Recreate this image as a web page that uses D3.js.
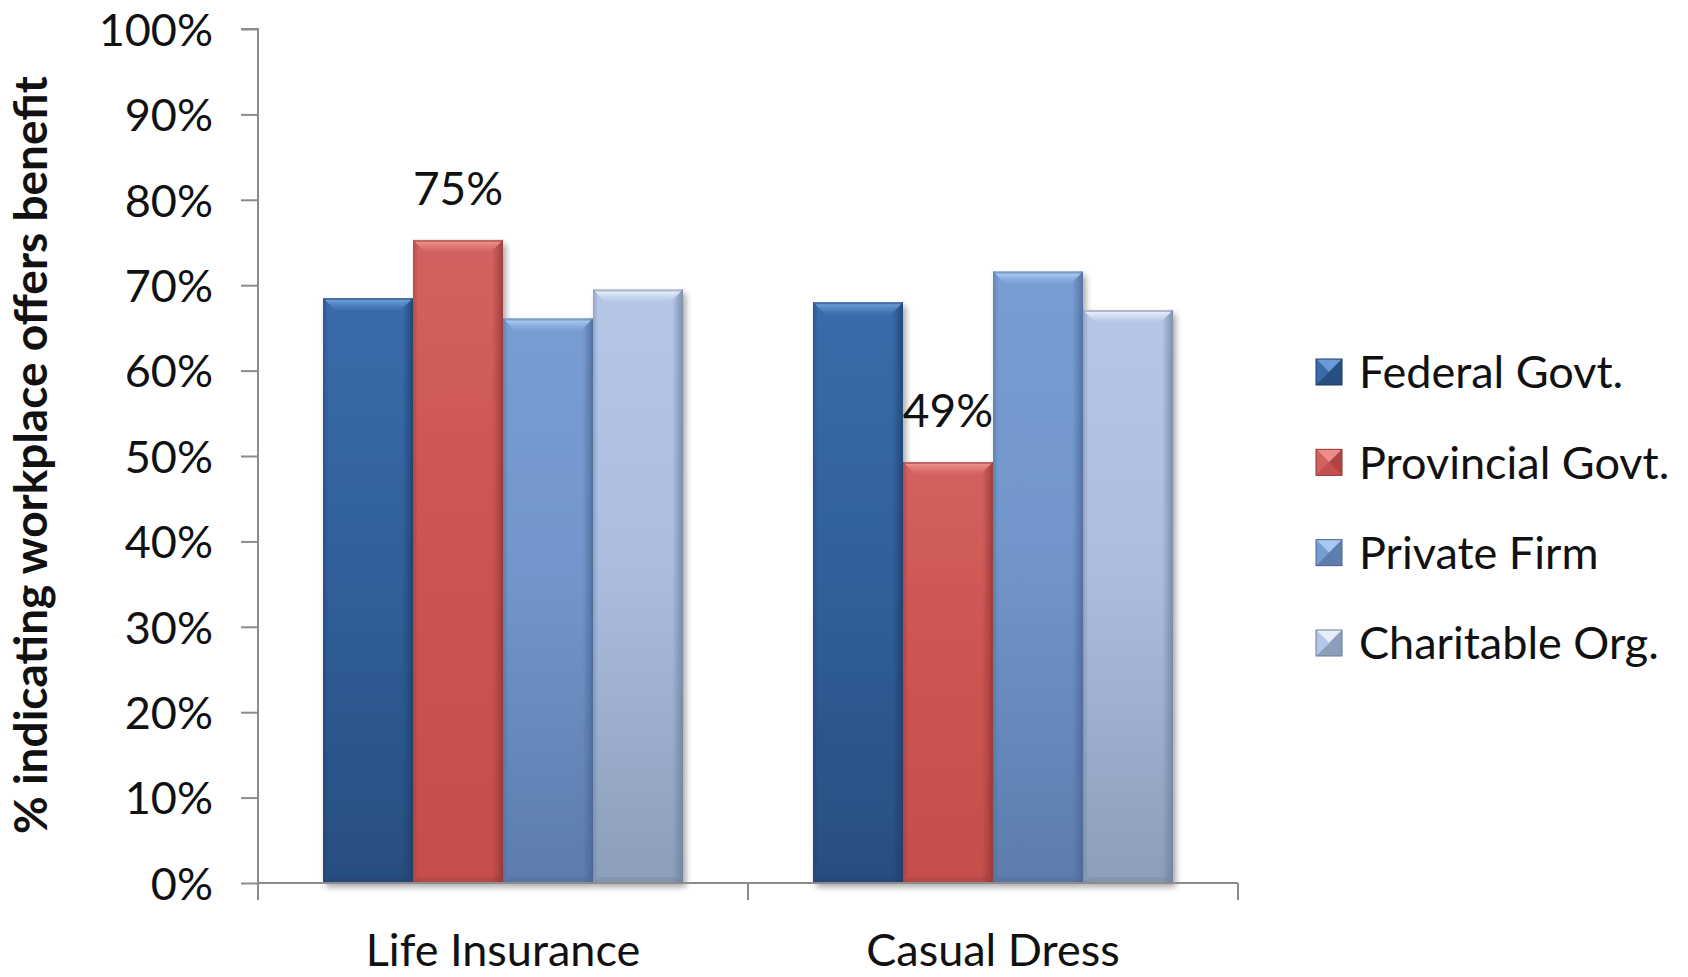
<!DOCTYPE html>
<html>
<head>
<meta charset="utf-8">
<script src="https://cdn.jsdelivr.net/npm/d3@7/dist/d3.min.js"></script>
<style>
  html, body { margin: 0; padding: 0; background: #ffffff; }
  svg { display: block; }
  text { font-family: Lato, "Open Sans", "Liberation Sans", sans-serif; fill: #111; }
</style>
</head>
<body>
<svg id="chart" width="1688" height="977"></svg>
<script>
// ---------------- data ----------------
const categories = ["Life Insurance", "Casual Dress"];
const seriesNames = ["Federal Govt.", "Provincial Govt.", "Private Firm", "Charitable Org."];
const federalGovt = [68.5, 68.0];
const provincialGovt = [75.3, 49.3];
const privateFirm = [66.1, 71.6];
const charitableOrg = [69.5, 67.1];
const yTicks = [0, 10, 20, 30, 40, 50, 60, 70, 80, 90, 100];
const yTitle = "% indicating workplace offers benefit";
// which bars carry a data label: [categoryIndex, seriesIndex]
const labelledBars = [[0, 1], [1, 1]];

const seriesValues = [federalGovt, provincialGovt, privateFirm, charitableOrg];

// ---------------- style ----------------
const palette = [
  { top: "#3a6cab", mid: "#31609c", bot: "#284e80", bevel: "#7aaae6", edge: "#1e3d66" },
  { top: "#d2625f", mid: "#cd5452", bot: "#c44f4c", bevel: "#f59a96", edge: "#8f3533" },
  { top: "#789dd2", mid: "#7296cb", bot: "#5d7cad", bevel: "#b5d6fb", edge: "#4a6594" },
  { top: "#b6c6e7", mid: "#acbde0", bot: "#8d9ebb", bevel: "#f4f9ff", edge: "#6b7b98" }
];

const svg = d3.select("#chart");
const defs = svg.append("defs");

const x0 = d3.scaleBand().domain(categories).range([258, 1238]).paddingInner(0.2653).paddingOuter(0.1327);
const x1 = d3.scaleBand().domain(seriesNames).range([0, x0.bandwidth()]).padding(0);
const y = d3.scaleLinear().domain([0, 100]).range([883, 29]);

// gradients
palette.forEach((p, i) => {
  const gv = defs.append("linearGradient").attr("id", "gv" + i).attr("x1", 0).attr("y1", 0).attr("x2", 0).attr("y2", 1);
  gv.append("stop").attr("offset", "0%").attr("stop-color", p.top);
  gv.append("stop").attr("offset", "45%").attr("stop-color", p.mid);
  gv.append("stop").attr("offset", "100%").attr("stop-color", p.bot);
  const gb = defs.append("linearGradient").attr("id", "gb" + i).attr("x1", 0).attr("y1", 0).attr("x2", 0).attr("y2", 1);
  gb.append("stop").attr("offset", "0%").attr("stop-color", p.bevel).attr("stop-opacity", 1);
  gb.append("stop").attr("offset", "100%").attr("stop-color", p.top).attr("stop-opacity", 0.6);
  // side shading
  const gs = defs.append("linearGradient").attr("id", "gs" + i).attr("x1", 0).attr("y1", 0).attr("x2", 1).attr("y2", 0);
  gs.append("stop").attr("offset", "0%").attr("stop-color", p.edge).attr("stop-opacity", 0.45);
  gs.append("stop").attr("offset", "6%").attr("stop-color", p.edge).attr("stop-opacity", 0.0);
  gs.append("stop").attr("offset", "88%").attr("stop-color", p.edge).attr("stop-opacity", 0.0);
  gs.append("stop").attr("offset", "100%").attr("stop-color", p.edge).attr("stop-opacity", 0.75);
});
const shadow = defs.append("filter").attr("id", "shadow").attr("x", "-20%").attr("y", "-10%").attr("width", "140%").attr("height", "130%");
shadow.append("feGaussianBlur").attr("in", "SourceAlpha").attr("stdDeviation", 3);
shadow.append("feOffset").attr("dx", 3).attr("dy", 4).attr("result", "ob");
shadow.append("feComponentTransfer").append("feFuncA").attr("type", "linear").attr("slope", 0.35);
const fm = shadow.append("feMerge");
fm.append("feMergeNode");
fm.append("feMergeNode").attr("in", "SourceGraphic");

// ---------------- axes ----------------
const axisColor = "#8c8c8c";
const yAxis = svg.append("g").attr("transform", "translate(258,0)")
  .call(d3.axisLeft(y).tickValues(yTicks).tickSize(17).tickPadding(28).tickFormat(d => d + "%"));
yAxis.select(".domain").attr("stroke", axisColor).attr("stroke-width", 2).attr("d", `M-17,${y(100)}H0V${y(0)}`);
yAxis.selectAll(".tick line").attr("stroke", axisColor).attr("stroke-width", 2);
yAxis.selectAll(".tick text").attr("font-size", 45).attr("fill", "#111")
  .style("font-family", "Lato, 'Open Sans', sans-serif").attr("dy", "0.36em");

// bars
const groups = svg.append("g").selectAll("g").data(categories).join("g")
  .attr("transform", d => `translate(${x0(d)},0)`);

categories.forEach((cat, ci) => {
  const g = groups.filter(d => d === cat);
  seriesNames.forEach((s, si) => {
    const v = seriesValues[si][ci];
    const bx = x1(s), bw = x1.bandwidth();
    const by = y(v), bh = y(0) - y(v);
    const bar = g.append("g").attr("filter", "url(#shadow)");
    bar.append("rect").attr("x", bx).attr("y", by).attr("width", bw).attr("height", bh)
      .attr("fill", `url(#gv${si})`);
    bar.append("rect").attr("x", bx).attr("y", by).attr("width", bw).attr("height", bh)
      .attr("fill", `url(#gs${si})`);
    const bev = 13;
    // top bevel
    bar.append("path").attr("d", `M${bx},${by}H${bx + bw}L${bx + bw - bev},${by + bev}H${bx + bev}Z`)
      .attr("fill", `url(#gb${si})`);
    // thin top line
    bar.append("rect").attr("x", bx).attr("y", by).attr("width", bw).attr("height", 2)
      .attr("fill", palette[si].edge).attr("opacity", 0.5);
    // bottom bevel
    bar.append("path").attr("d", `M${bx},${y(0)}H${bx + bw}L${bx + bw - 6},${y(0) - 6}H${bx + 6}Z`)
      .attr("fill", palette[si].edge).attr("opacity", 0.25);
  });
});

// x axis (drawn after bars)
const xAxisG = svg.append("g");
xAxisG.append("line").attr("x1", 258).attr("x2", 1238).attr("y1", y(0)).attr("y2", y(0))
  .attr("stroke", axisColor).attr("stroke-width", 2);
const xDividers = [x0.range()[0], ...categories.map(c => x0(c) + x0.bandwidth() + x0.step() * x0.paddingInner() / 2).slice(0, -1), x0.range()[1]];
xAxisG.selectAll("line.div").data(xDividers).join("line").attr("class", "div")
  .attr("x1", d => d).attr("x2", d => d).attr("y1", y(0)).attr("y2", y(0) + 17)
  .attr("stroke", axisColor).attr("stroke-width", 2);
xAxisG.selectAll("text.cat").data(categories).join("text").attr("class", "cat")
  .attr("x", d => x0(d) + x0.bandwidth() / 2).attr("y", 966)
  .attr("text-anchor", "middle").attr("font-size", 45).text(d => d);

// data labels
svg.append("g").selectAll("text").data(labelledBars).join("text")
  .attr("x", d => x0(categories[d[0]]) + x1(seriesNames[d[1]]) + x1.bandwidth() / 2)
  .attr("y", d => y(seriesValues[d[1]][d[0]]) - 35)
  .attr("text-anchor", "middle").attr("font-size", 46)
  .text(d => Math.round(seriesValues[d[1]][d[0]]) + "%");

// y title
svg.append("text").attr("transform", `translate(47,455) rotate(-90)`)
  .attr("text-anchor", "middle").attr("font-size", 46).attr("font-weight", "bold")
  .text(yTitle);

// legend
const legend = svg.append("g").attr("transform", "translate(1316,0)");
const legendY = d3.scalePoint().domain(seriesNames).range([372, 643]);
seriesNames.forEach((s, si) => {
  const ly = legendY(s);
  const lg = legend.append("g").attr("transform", `translate(0,${ly - 13})`);
  const S = 26, p = palette[si];
  lg.append("rect").attr("width", S).attr("height", S).attr("fill", p.mid);
  lg.append("path").attr("d", `M0,0H${S}L${S / 2},${S / 2}Z`).attr("fill", p.bevel).attr("opacity", 0.8);
  lg.append("path").attr("d", `M${S},0V${S}L${S / 2},${S / 2}Z`).attr("fill", p.edge).attr("opacity", 0.5);
  lg.append("path").attr("d", `M0,${S}H${S}L${S / 2},${S / 2}Z`).attr("fill", p.bot);
  lg.append("path").attr("d", `M0,0V${S}L${S / 2},${S / 2}Z`).attr("fill", p.top);
  lg.append("rect").attr("width", S).attr("height", S).attr("fill", "none").attr("stroke", p.edge).attr("stroke-width", 1);
  legend.append("text").attr("x", 43).attr("y", ly).attr("dy", "0.36em").attr("font-size", 45).text(s);
});
</script>
</body>
</html>
